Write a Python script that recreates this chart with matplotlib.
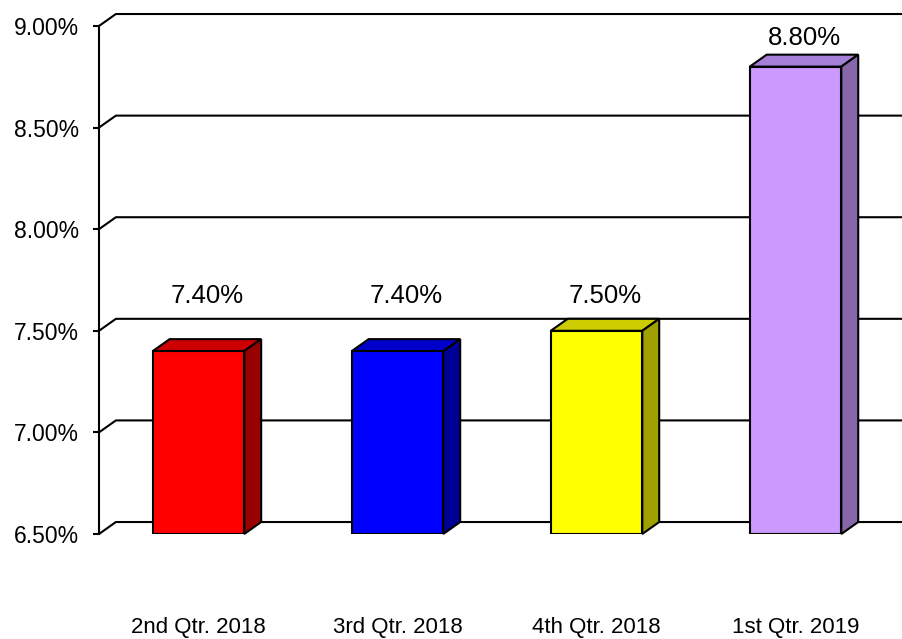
import matplotlib.pyplot as plt
from matplotlib.patches import Polygon
import numpy as np

plt.rcParams['font.family'] = ['Liberation Sans', 'DejaVu Sans']

# Data
quarters = ['2nd Qtr. 2018', '3rd Qtr. 2018', '4th Qtr. 2018', '1st Qtr. 2019']
rates = [7.40, 7.40, 7.50, 8.80]
front_colors = ['#FF0000', '#0000FF', '#FFFF00', '#CC99FF']
top_colors = ['#CC0000', '#0000CC', '#CCCC00', '#A57FD6']
side_colors = ['#990000', '#000099', '#A0A000', '#8866AA']
yticks = [6.5, 7.0, 7.5, 8.0, 8.5, 9.0]

ymin, ymax = 6.5, 9.0
xmin, xmax = -0.5, 3.54
width = 0.46
# pseudo-3d depth (data units)
dx, dy = 0.085, 0.059

fig = plt.figure(figsize=(9.03, 6.39), dpi=100)
ax = fig.add_axes([0.1096, 0.1643, 0.8904, 0.795])
ax.set_xlim(xmin, xmax)
ax.set_ylim(ymin, ymax)

# back wall gridlines with the little diagonal at the left
for t in yticks:
    ax.plot([xmin, xmin + dx, xmax], [t, t + dy, t + dy], color='black',
            lw=1.5, clip_on=False, zorder=1, solid_capstyle='butt')

x = np.arange(len(quarters))
ax.bar(x, np.array(rates) - ymin, bottom=ymin, width=width,
       color=front_colors, edgecolor='black', linewidth=1.5, zorder=3)

for i, v in enumerate(rates):
    l, r = i - width / 2, i + width / 2
    top = Polygon([(l, v), (l + dx, v + dy), (r + dx, v + dy), (r, v)],
                  closed=True, facecolor=top_colors[i], edgecolor='black',
                  linewidth=1.5, zorder=2, clip_on=False)
    side = Polygon([(r, ymin), (r + dx, ymin + dy), (r + dx, v + dy), (r, v)],
                   closed=True, facecolor=side_colors[i], edgecolor='black',
                   linewidth=1.5, zorder=2, clip_on=False)
    ax.add_patch(top)
    ax.add_patch(side)
    # Excel keeps short-bar labels on one line
    ly = max(v + dy + 0.025, 7.61)
    ax.text(i + dx / 2, ly, f'{v:.2f}%', ha='center', va='bottom',
            fontsize=18.5, zorder=5)

for s in ['top', 'right', 'bottom']:
    ax.spines[s].set_visible(False)
ax.spines['left'].set_linewidth(1.5)

ax.set_yticks(yticks)
ax.set_yticklabels([f'{t:.2f}%' for t in yticks], fontsize=16.5)
ax.tick_params(axis='y', direction='out', length=4.3, width=1.5, pad=10)

ax.set_xticks(x)
ax.set_xticklabels(quarters, fontsize=16)
ax.tick_params(axis='x', length=0, pad=60)

fig.savefig('out.png', dpi=100)
